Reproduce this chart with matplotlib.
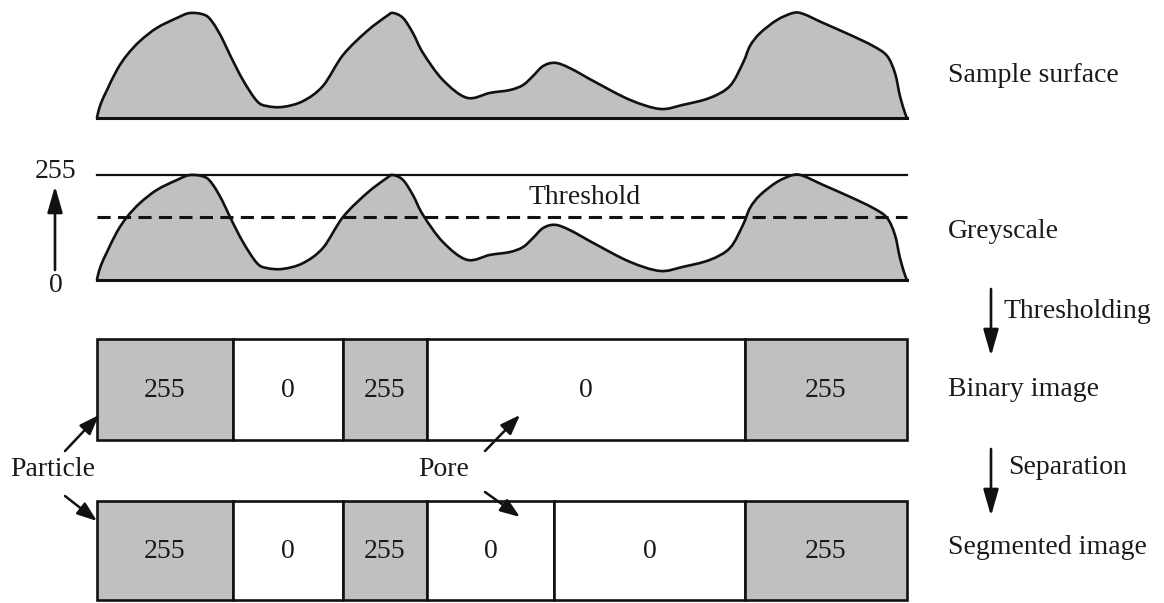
import matplotlib
matplotlib.use("Agg")
import matplotlib.pyplot as plt
from matplotlib.patches import Rectangle, FancyArrowPatch, PathPatch
from matplotlib.path import Path
import numpy as np

# ---------------- data ----------------
# position along the sample (pixel columns) and grey value of the profile
profile_x = [97, 98, 101, 107, 117, 127, 140, 157, 177, 190, 205, 213, 222, 230, 243,
             257, 267, 283, 303, 323, 343, 367, 387, 393, 403, 413, 423, 443, 467, 490,
             510, 523, 533, 543, 555, 570, 597, 630, 660, 683, 710, 730, 743, 750, 760,
             777, 793, 803, 823, 850, 873, 887, 895, 900, 905, 907]
profile_grey = [0, 12, 36, 68, 117, 153, 187, 219, 243, 255, 250, 231, 194, 153, 92,
                41, 29, 27, 41, 78, 153, 211, 248, 255, 243, 206, 158, 92, 49, 61,
                68, 80, 102, 126, 134, 121, 85, 44, 22, 32, 49, 78, 134, 175, 206,
                238, 255, 253, 231, 202, 175, 151, 109, 53, 12, 0]
grey_max = 255
threshold = 153

binary_edges = [97, 233, 343, 427, 745, 907]
binary_values = [255, 0, 255, 0, 255]
segmented_edges = [97, 233, 343, 427, 554, 745, 907]
segmented_values = [255, 0, 255, 0, 0, 255]

stage_labels = ["Sample surface", "Greyscale", "Binary image", "Segmented image"]
step_labels = ["Thresholding", "Separation"]

# ---------------- style ----------------
FILL = "#c0c0c0"
INK = "#111111"
FONT = dict(family="Liberation Serif", size=20, color="#1a1a1a")

fig = plt.figure(figsize=(11.64, 6.03), dpi=100)
ax = fig.add_axes([0, 0, 1, 1])
ax.set_xlim(0, 1164)
ax.set_ylim(603, 0)
ax.axis("off")

PX = 105.0 / grey_max  # vertical pixels per grey level
x = np.array(profile_x, float)
g = np.array(profile_grey, float)


def smooth_path_vertices(px, py):
    """Bezier (Catmull-Rom style) control points so matplotlib draws a smooth curve
    through the given points."""
    P = np.column_stack([px, py])
    n = len(P)
    verts = [P[0]]
    codes = [Path.MOVETO]
    for i in range(n - 1):
        p0 = P[i - 1] if i > 0 else P[i]
        p1, p2 = P[i], P[i + 1]
        p3 = P[i + 2] if i + 2 < n else P[i + 1]
        c1 = p1 + (p2 - p0) / 6.0
        c2 = p2 - (p3 - p1) / 6.0
        verts += [c1, c2, p2]
        codes += [Path.CURVE4] * 3
    return verts, codes


def profile(base):
    yy = base - g * PX
    verts, codes = smooth_path_vertices(x, yy)
    # fill
    fv = verts + [(x[-1], base), (x[0], base), verts[0]]
    fc = codes + [Path.LINETO, Path.LINETO, Path.CLOSEPOLY]
    ax.add_patch(PathPatch(Path(fv, fc), facecolor=FILL, edgecolor="none"))
    ax.add_patch(PathPatch(Path(verts, codes), facecolor="none", edgecolor=INK, lw=1.9,
                           joinstyle="round", capstyle="round"))
    ax.plot([x[0], x[-1]], [base, base], color=INK, lw=2.2)


# ---- sample surface ----
profile(118)

# ---- greyscale ----
base2 = 280
profile(base2)
ax.plot([x[0], x[-1]], [base2 - grey_max * PX] * 2, color=INK, lw=1.6)
ax.plot([x[0], x[-1]], [base2 - threshold * PX] * 2, color=INK, lw=2.2,
        dashes=(4.3, 2.4))
ax.text(585, 198, "Threshold", ha="center", va="center", **FONT)

# grey axis labels
ax.text(56, 172, "255", ha="center", va="center", **FONT)
ax.text(56, 285, "0", ha="center", va="center", **FONT)


def arrow(p0, p1, hl=0.8, hw=0.23, lw=1.9):
    a = FancyArrowPatch(p0, p1, arrowstyle=f"-|>,head_length={hl},head_width={hw}",
                        mutation_scale=20, lw=lw, color=INK, shrinkA=0, shrinkB=0)
    ax.add_patch(a)


arrow((55, 270), (55, 186))


# ---- boxes ----
def boxes(edges, values, top, bottom):
    for i, v in enumerate(values):
        x0, x1 = edges[i], edges[i + 1]
        ax.add_patch(Rectangle((x0, top), x1 - x0, bottom - top,
                               facecolor=FILL if v == grey_max else "white",
                               edgecolor=INK, lw=1.9))
        ax.text((x0 + x1) / 2, (top + bottom) / 2 + 1, str(v), ha="center", va="center", **FONT)


boxes(binary_edges, binary_values, 339, 440)
boxes(segmented_edges, segmented_values, 501, 600)

# ---- stage labels ----
for lab, yy in zip(stage_labels, [75, 232, 390, 548]):
    ax.text(948, yy, lab, ha="left", va="center", **FONT)

# step arrows
arrow((991, 289), (991, 356))
ax.text(1004, 312, step_labels[0], ha="left", va="center", **FONT)
arrow((991, 449), (991, 516))
ax.text(1008, 468, step_labels[1], ha="left", va="center", **FONT)

# ---- Particle / Pore annotations ----
ax.text(10, 469, "Particle", ha="left", va="center", **FONT)
ax.text(418, 469, "Pore", ha="left", va="center", **FONT)
arrow((65, 451), (99, 415), hl=0.6, hw=0.22, lw=1.8)
arrow((65, 496), (97, 521), hl=0.6, hw=0.22, lw=1.8)
arrow((485, 451), (520, 415), hl=0.6, hw=0.22, lw=1.8)
arrow((485, 492), (520, 517), hl=0.6, hw=0.22, lw=1.8)

fig.savefig("out.png", dpi=100, facecolor="white")
